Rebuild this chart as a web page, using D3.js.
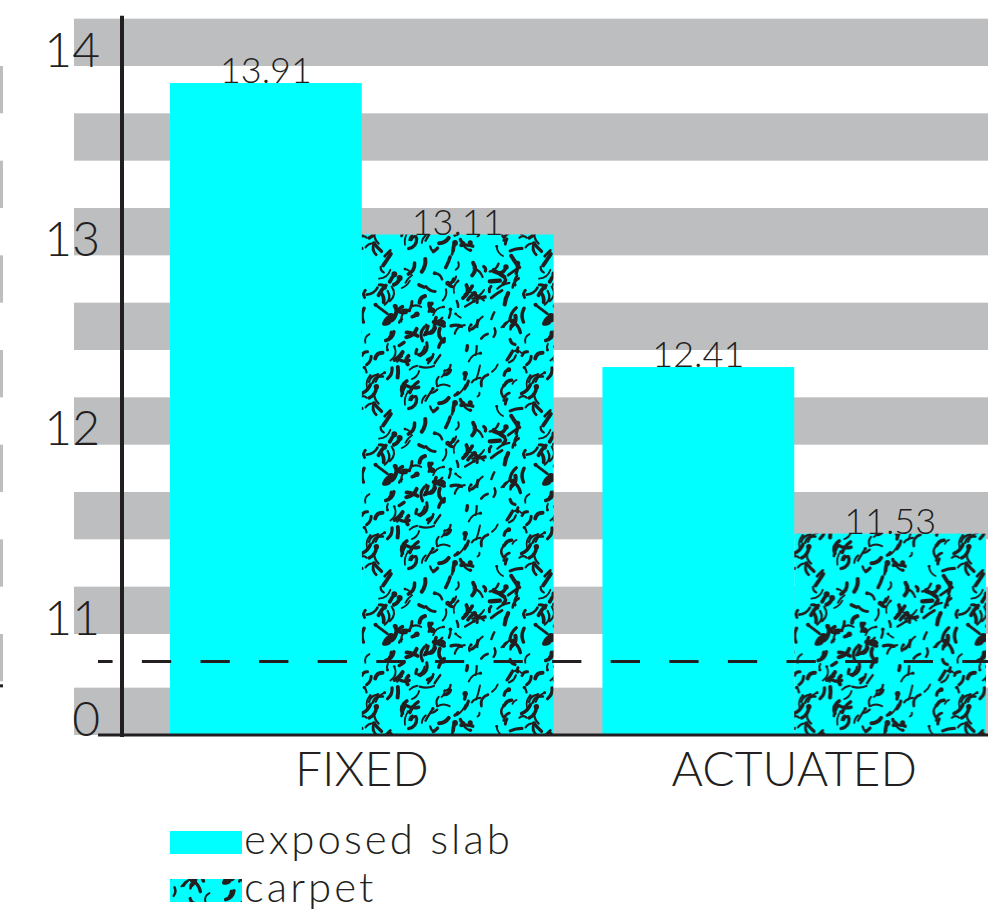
<!DOCTYPE html>
<html>
<head>
<meta charset="utf-8">
<script src="https://cdn.jsdelivr.net/npm/d3@7"></script>
<style>
  body { margin: 0; background: #fff; }
  svg { display: block; }
  text { font-family: "Lato", "Noto Sans", sans-serif; font-weight: 300; fill: #231f20; }
</style>
</head>
<body>
<div id="chart"></div>
<script>
var categories      = ["FIXED", "ACTUATED"];
var series_names    = ["exposed slab", "carpet"];
var exposed_slab    = [13.91, 12.41];
var carpet          = [13.11, 11.53];
var tick_values     = [0, 11, 12, 13, 14];
var threshold_value = 8;   // dashed line, sits inside the axis break (0 .. 11)

var width  = 988;
var height = 912;
var ink          = "#231f20";
var cyan         = "#00ffff";
var stripe_color = "#bcbec0";

var svg = d3.select("#chart").append("svg")
  .attr("width", width)
  .attr("height", height);

// broken axis: 0 is squeezed right under 11
var y = d3.scaleLinear()
  .domain([0, 11, 14])
  .range([735, 634, 66]);

var x0 = d3.scaleBand()
  .domain(categories)
  .range([122, 1034])
  .paddingInner(0.113)
  .paddingOuter(0.111);

var x1 = d3.scaleBand()
  .domain(series_names)
  .range([0, x0.bandwidth()]);

var stripe_h = (y(11) - y(14)) / 12;
var stripe_values = [0].concat(d3.range(11, 14.5, 0.5));

// carpet texture: small squiggles on cyan
function make_carpet_pattern () {
  var T = 160;
  var pattern = svg.append("defs").append("pattern")
    .attr("id", "carpet")
    .attr("patternUnits", "userSpaceOnUse")
    .attr("width", T)
    .attr("height", T);
  pattern.append("rect")
    .attr("width", T)
    .attr("height", T)
    .attr("fill", cyan);

  var rand = d3.randomLcg(0.61);
  var strokes = [];
  for (var i = 0; i < 190; i++) {
    var px = rand()*T, py = rand()*T;
    var ang = rand() < 0.6 ? (-1.0 + (rand() - 0.5)*1.1) : rand()*Math.PI*2;
    var len = 4 + rand()*11;
    var bend = (rand() - 0.5)*len*0.9;
    var ex = px + len*Math.cos(ang), ey = py + len*Math.sin(ang);
    var cx = (px + ex)/2 - bend*Math.sin(ang), cy = (py + ey)/2 + bend*Math.cos(ang);
    strokes.push({p:[px, py, cx, cy, ex, ey], w:1.8 + rand()*2.4, head:rand() < 0.25});
  }
  [-T, 0, T].forEach(function (dx) {
    [-T, 0, T].forEach(function (dy) {
      var g = pattern.append("g")
        .attr("transform", "translate(" + dx + "," + dy + ")");
      g.selectAll("path")
        .data(strokes)
        .enter().append("path")
        .attr("d", function (d) {
          return "M" + d.p[0] + "," + d.p[1] + "Q" + d.p[2] + "," + d.p[3] + " " + d.p[4] + "," + d.p[5];
        })
        .attr("fill", "none")
        .attr("stroke", ink)
        .attr("stroke-width", function (d) { return d.w; })
        .attr("stroke-linecap", "round");
      g.selectAll("circle")
        .data(strokes.filter(function (d) { return d.head; }))
        .enter().append("circle")
        .attr("cx", function (d) { return d.p[4]; })
        .attr("cy", function (d) { return d.p[5]; })
        .attr("r", function (d) { return d.w*0.75; })
        .attr("fill", ink);
    });
  });
}
make_carpet_pattern();

var fills = {"exposed slab": cyan, "carpet": "url(#carpet)"};

// background stripes
svg.append("g").selectAll("rect")
  .data(stripe_values)
  .enter().append("rect")
  .attr("x", 74)
  .attr("y", function (d) { return y(d) - stripe_h; })
  .attr("width", width - 74)
  .attr("height", stripe_h)
  .attr("fill", stripe_color);

// slivers on the far left edge
svg.append("g").selectAll("rect")
  .data(d3.range(11, 14.5, 0.5))
  .enter().append("rect")
  .attr("x", 0)
  .attr("y", function (d) { return y(d); })
  .attr("width", 3)
  .attr("height", stripe_h)
  .attr("fill", stripe_color);
svg.append("rect")
  .attr("x", 0)
  .attr("y", y(11) + stripe_h + 3)
  .attr("width", 3)
  .attr("height", 3)
  .attr("fill", ink);

// bars
var rows = categories.map(function (c, i) {
  return {category:c, values:[
    {name:"exposed slab", value:exposed_slab[i]},
    {name:"carpet", value:carpet[i]}
  ]};
});

var groups = svg.append("g").selectAll("g")
  .data(rows)
  .enter().append("g")
  .attr("transform", function (d) { return "translate(" + x0(d.category) + ",0)"; });

groups.selectAll("rect")
  .data(function (d) { return d.values; })
  .enter().append("rect")
  .attr("x", function (d) { return x1(d.name); })
  .attr("y", function (d) { return y(d.value); })
  .attr("width", x1.bandwidth())
  .attr("height", function (d) { return y(0) - y(d.value); })
  .attr("fill", function (d) { return fills[d.name]; });

// axes
var y_axis = svg.append("g")
  .attr("transform", "translate(122,0)")
  .call(d3.axisLeft(y).tickValues(tick_values).tickSize(0).tickPadding(22));
y_axis.select(".domain").remove();
y_axis.selectAll("text")
  .attr("dy", "0")
  .style("font-size", "48px")
  .style("font-family", null)
  .attr("fill", ink);

var x_axis = svg.append("g")
  .attr("transform", "translate(0," + y(0) + ")")
  .call(d3.axisBottom(x0).tickSize(0));
x_axis.select(".domain").remove();
x_axis.selectAll("text")
  .attr("y", 51)
  .attr("dy", "0")
  .style("font-size", "48px")
  .style("font-family", null)
  .attr("fill", ink);

svg.append("line")
  .attr("x1", 122).attr("x2", 122)
  .attr("y1", y(14) - stripe_h - 3).attr("y2", y(0) + 2)
  .attr("stroke", ink)
  .attr("stroke-width", 4);

svg.append("line")
  .attr("x1", 98).attr("x2", width)
  .attr("y1", y(0)).attr("y2", y(0))
  .attr("stroke", ink)
  .attr("stroke-width", 3);

// dashed reference line, drawn over the bars
svg.append("line")
  .attr("x1", 98).attr("x2", width)
  .attr("y1", y(threshold_value)).attr("y2", y(threshold_value))
  .attr("stroke", ink)
  .attr("stroke-width", 3)
  .attr("stroke-dasharray", "29.3 29.3")
  .attr("stroke-dashoffset", 14.7);

// value labels
groups.selectAll("text.value")
  .data(function (d) { return d.values; })
  .enter().append("text")
  .attr("class", "value")
  .attr("x", function (d) { return x1(d.name) + x1.bandwidth()/2; })
  .attr("y", function (d) { return y(d.value); })
  .attr("text-anchor", "middle")
  .style("font-size", "36px")
  .text(function (d) { return d3.format(".2f")(d.value); });

// legend
var legend = svg.append("g").selectAll("g")
  .data(series_names)
  .enter().append("g")
  .attr("transform", function (d, i) { return "translate(170," + (831 + i*48) + ")"; });
legend.append("rect")
  .attr("width", 72)
  .attr("height", 23)
  .attr("fill", function (d) { return fills[d]; });
legend.append("text")
  .attr("x", 74)
  .attr("y", 23)
  .style("font-size", "42px")
  .style("letter-spacing", "3px")
  .text(function (d) { return d; });
</script>
</body>
</html>
